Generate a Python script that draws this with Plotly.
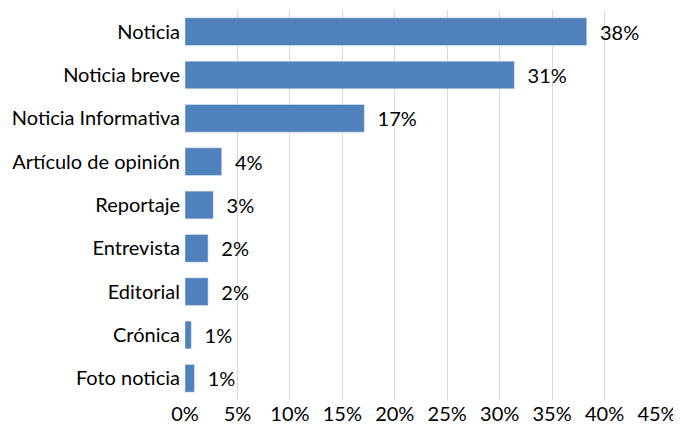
import plotly.graph_objects as go

categories = ["Noticia", "Noticia breve", "Noticia Informativa", "Artículo de opinión",
              "Reportaje", "Entrevista", "Editorial", "Crónica", "Foto noticia"]
values = [38.3, 31.4, 17.1, 3.5, 2.7, 2.2, 2.2, 0.6, 0.9]
labels = ["38%", "31%", "17%", "4%", "3%", "2%", "2%", "1%", "1%"]
tick_vals = [0, 5, 10, 15, 20, 25, 30, 35, 40, 45]
tick_text = ["0%", "5%", "10%", "15%", "20%", "25%", "30%", "35%", "40%", "45%"]

FONT = "Lato, 'Open Sans', sans-serif"

fig = go.Figure(go.Bar(
    y=categories, x=values, orientation="h",
    marker=dict(color="#4f81bd"),
    text=["\u00a0\u00a0" + t for t in labels], textposition="outside",
    textfont=dict(size=20, color="#000000", family=FONT),
    cliponaxis=False,
))

fig.update_layout(
    width=673, height=416,
    margin=dict(l=177, r=24, t=2, b=24),
    paper_bgcolor="white", plot_bgcolor="white",
    bargap=0.36,
    showlegend=False,
    font=dict(family=FONT, size=20, color="#000000"),
    xaxis=dict(range=[0, 45], tickvals=tick_vals, ticktext=tick_text,
               showgrid=True, gridcolor="#d9d9d9", gridwidth=1,
               zeroline=False, showline=False, ticks="",
               tickfont=dict(size=20), automargin=False),
    yaxis=dict(autorange="reversed", showgrid=False, zeroline=False,
               showline=False, ticks="", ticklen=0, ticklabelstandoff=4,
               tickfont=dict(size=20), automargin=False),
)

fig.write_html("out.html")
